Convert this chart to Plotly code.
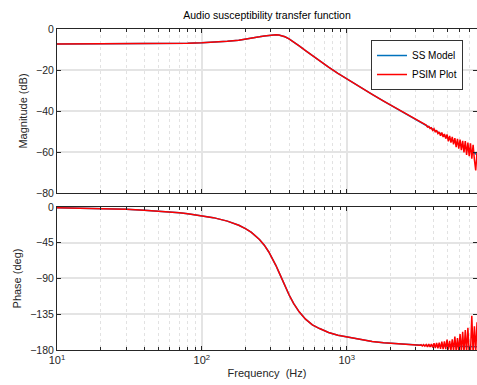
import plotly.graph_objects as go

# ---- data ----
freq_ss = [10, 15, 20, 30, 40, 50, 60, 70, 80, 100, 120, 150, 180, 200, 220, 250, 270, 290,
           310, 325, 340, 356, 375, 400, 430, 470, 520, 580, 650, 750, 870, 1000, 1200, 1500,
           1800, 2200, 2700, 3300, 4000, 5000, 6000, 7000, 8000]
mag_ss = [-7.29, -7.29, -7.28, -7.25, -7.21, -7.16, -7.10, -7.03, -6.94, -6.74, -6.49, -6.03,
          -5.46, -5.02, -4.55, -3.83, -3.38, -3.01, -2.80, -2.78, -2.91, -3.22, -3.79, -4.80,
          -6.22, -8.21, -10.56, -13.07, -15.59, -18.62, -21.62, -24.34, -27.78, -31.89, -35.18,
          -38.76, -42.37, -45.90, -49.27, -53.17, -56.34, -59.03, -61.35]
phase_ss = [-1.0, -1.5, -2.0, -3.0, -4.1, -5.1, -6.2, -7.3, -8.4, -10.8, -13.4, -17.8, -23.0,
            -27.2, -32.0, -40.9, -48.1, -56.6, -66.1, -73.7, -81.6, -90.0, -99.5, -110.5,
            -121.3, -132.0, -141.2, -148.4, -153.0, -158.0, -161.5, -163.5, -166.5, -169.3,
            -171.0, -172.3, -173.3, -174.0, -174.5, -175.0, -175.4, -175.7, -176.0]

# PSIM: identical to the model up to 2.7 kHz, then a noisy tail
psim_tail_freq = [3000, 3063, 3127, 3192, 3259, 3328, 3397, 3468, 3541, 3615, 3691, 3768, 3847,
                  3928, 4010, 4094, 4179, 4267, 4356, 4448, 4541, 4636, 4733, 4832, 4933, 5036,
                  5142, 5250, 5359, 5472, 5586, 5703, 5823, 5945, 6069, 6196, 6326, 6458, 6594,
                  6732, 6873, 7017, 7163, 7313, 7467, 7623, 7783, 7946, 8112]
psim_tail_mag = [-44.23, -44.59, -44.95, -45.32, -45.7, -46.0, -46.4, -46.8, -46.9, -47.8, -47.5,
                 -48.5, -48.2, -49.5, -48.7, -50.3, -49.4, -51.0, -50.2, -52.1, -50.5, -52.7,
                 -51.2, -53.5, -51.4, -54.8, -52.1, -55.4, -52.6, -56.3, -53.2, -57.6, -53.6,
                 -58.4, -54.0, -59.1, -54.6, -60.2, -54.7, -61.4, -55.4, -62.0, -55.8, -63.3,
                 -56.5, -63.8, -69.0, -60.0, -62.0]
psim_tail_phase = [-174.0, -174.0, -174.1, -174.1, -173.4, -175.0, -173.3, -175.2, -173.2,
                   -176.0, -172.6, -176.3, -172.4, -176.8, -171.5, -177.5, -171.0, -177.8,
                   -170.8, -178.5, -169.5, -178.8, -169.0, -179.0, -167.0, -179.5, -168.5,
                   -180.5, -166.5, -181.0, -163.0, -181.5, -165.0, -182.0, -160.0, -182.5,
                   -157.0, -183.0, -155.0, -183.0, -152.0, -184.0, -183.0, -137.0, -184.0,
                   -150.0, -183.0, -145.0, -182.0]
n_smooth = 37  # model points kept before the tail (up to 2.7 kHz)

psim_freq = freq_ss[:n_smooth] + psim_tail_freq
psim_mag = mag_ss[:n_smooth] + psim_tail_mag
psim_phase = phase_ss[:n_smooth] + psim_tail_phase

mag_ticks = [0, -20, -40, -60, -80]
phase_ticks = [0, -45, -90, -135, -180]
freq_ticks = [10, 100, 1000]
freq_ticktext = ["10<sup>1</sup>", "10<sup>2</sup>", "10<sup>3</sup>"]
freq_minor_ticks = [20, 30, 40, 50, 60, 70, 80, 90, 200, 300, 400, 500, 600, 700, 800, 900,
                    2000, 3000, 4000, 5000, 6000, 7000]

BLUE = "#0072BD"
RED = "#FF0000"
AX = "#262626"
FONT = "Liberation Sans, Arial, sans-serif"

fig = go.Figure()
fig.add_trace(go.Scatter(x=freq_ss, y=mag_ss, mode="lines", name="SS Model",
                         line=dict(color=BLUE, width=1.5), xaxis="x", yaxis="y"))
fig.add_trace(go.Scatter(x=psim_freq, y=psim_mag, mode="lines", name="PSIM Plot",
                         line=dict(color=RED, width=1.5), xaxis="x", yaxis="y"))
fig.add_trace(go.Scatter(x=freq_ss, y=phase_ss, mode="lines", name="SS Model",
                         line=dict(color=BLUE, width=1.5), xaxis="x2", yaxis="y2",
                         showlegend=False))
fig.add_trace(go.Scatter(x=psim_freq, y=psim_phase, mode="lines", name="PSIM Plot",
                         line=dict(color=RED, width=1.5), xaxis="x2", yaxis="y2",
                         showlegend=False))

xcommon = dict(type="log", range=[1, 3.9], showline=True, linecolor=AX, linewidth=1,
               mirror="ticks", ticks="inside", ticklen=4, tickcolor=AX,
               tickvals=freq_ticks, ticktext=freq_ticktext, automargin=False,
               showgrid=True, gridcolor="#e4e4e4", gridwidth=1.5, zeroline=False,
               minor=dict(tickvals=freq_minor_ticks, ticks="inside", ticklen=3, tickcolor=AX,
                          showgrid=True, gridcolor="#e2e2e2", griddash="dot", gridwidth=1),
               tickfont=dict(family=FONT, size=11, color=AX))
ycommon = dict(showline=True, linecolor=AX, linewidth=1, mirror="ticks", ticks="inside",
               ticklen=4, tickcolor=AX, showgrid=True, gridcolor="#e4e4e4", gridwidth=1.5,
               zeroline=False, automargin=False,
               tickfont=dict(family=FONT, size=10.5, color=AX))

fig.update_layout(
    width=477, height=385,
    margin=dict(l=57, r=0, t=29, b=35),
    paper_bgcolor="white", plot_bgcolor="white",
    font=dict(family=FONT, size=10.5, color=AX),
    title=dict(text="Audio susceptibility transfer function", x=0.5, xref="paper",
               xanchor="center", y=1 - 15 / 385, yref="container", yanchor="middle",
               font=dict(family=FONT, size=10.5, color="#000000")),
    xaxis=dict(xcommon, domain=[0, 1], anchor="y", showticklabels=False),
    yaxis=dict(ycommon, domain=[0.4891, 1], anchor="x", range=[-80, 0],
               tickvals=mag_ticks,
               title=dict(text="Magnitude (dB)", font=dict(family=FONT, size=11, color=AX),
                          standoff=6)),
    xaxis2=dict(xcommon, domain=[0, 1], anchor="y2",
                title=dict(text="Frequency\u00a0 (Hz)", font=dict(family=FONT, size=11, color=AX),
                           standoff=4)),
    yaxis2=dict(ycommon, domain=[0, 0.4455], anchor="x2", range=[-180, 0],
                tickvals=phase_ticks,
                title=dict(text="Phase (deg)", font=dict(family=FONT, size=11, color=AX),
                           standoff=6)),
    legend=dict(x=0.7476, y=0.9657, xanchor="left", yanchor="top", bgcolor="white",
                bordercolor="#333333", borderwidth=1,
                font=dict(family=FONT, size=10, color="#000000"),
                tracegroupgap=0, itemwidth=30),
    showlegend=True,
)

fig.write_html("out.html", post_script="document.body.style.margin='0';",
               config={"displayModeBar": False})
